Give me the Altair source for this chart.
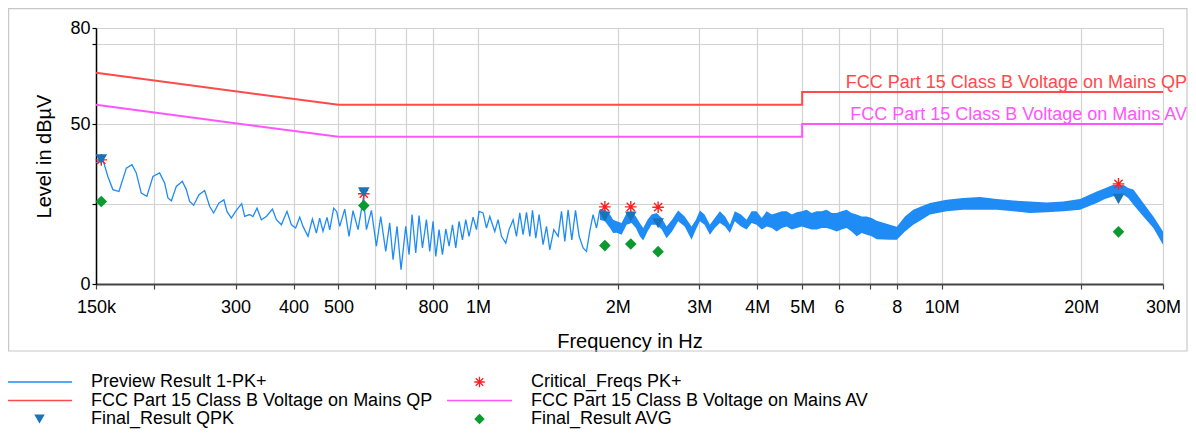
import math
import altair as alt
import pandas as pd

FONT = "Liberation Sans, Arial, Helvetica, sans-serif"

# ---------------- series ----------------
PREVIEW = "Preview Result 1-PK+"
CRIT = "Critical_Freqs PK+"
QP = "FCC Part 15 Class B Voltage on Mains QP"
AV = "FCC Part 15 Class B Voltage on Mains AV"
QPK = "Final_Result QPK"
AVG = "Final_Result AVG"
# legend fills column by column: left column first, then right column
series_order = [PREVIEW, QP, QPK, CRIT, AV, AVG]
series_colors = ["#1f8bf5", "#ff4a4a", "#1873b8", "#ff1f1f", "#ff55ff", "#0b9a2f"]

# ---------------- data ----------------
# preview trace, thin part (kHz, dBµV)
trace_khz = [150.0, 154.8, 159.1, 163.1, 168.1, 174.4, 179.3, 183.2, 187.8, 193.1,
             199.0, 205.7, 210.9, 214.4, 218.1, 223.5, 230.3, 234.9, 238.8, 243.6,
             250.1, 257.3, 263.7, 269.0, 276.2, 283.1, 287.4, 293.7, 301.1, 309.2,
             313.8, 321.7, 327.0, 333.7, 341.0, 349.5, 360.2, 367.4, 376.6, 387.2,
             395.8, 404.3, 412.5, 419.3, 429.8, 439.3, 448.1, 455.5, 463.0, 472.4,
             478.7, 488.3, 495.7, 503.1, 515.8, 526.9, 537.5, 551.1, 566.0, 574.5,
             589.0, 603.6, 616.7, 632.3, 644.9, 655.7, 668.8, 682.2, 698.4, 709.9,
             720.6, 733.9, 746.1, 758.7, 773.9, 786.7, 799.8, 810.6, 824.0, 837.9,
             852.0, 866.0, 880.7, 895.2, 910.1, 925.5, 940.8, 956.3, 975.7, 992.2,
             1005.1, 1025.2, 1042.8, 1060.0, 1086.7, 1104.6, 1123.3, 1147.6, 1166.5, 1190.1,
             1210.3, 1230.3, 1250.5, 1272.0, 1293.0, 1310.4, 1332.0, 1354.2, 1381.3, 1404.8,
             1427.9, 1456.8, 1488.3, 1513.5, 1538.5, 1563.8, 1592.9, 1622.5, 1651.9, 1685.0,
             1713.6, 1741.5, 1770.4, 1800.8, 1830.9]
trace_db = [37.8, 39.4, 33.6, 29.5, 28.9, 36.2, 37.3, 34.7, 28.4, 27.4,
            33.6, 34.7, 31.6, 26.9, 26.0, 30.5, 32.1, 29.5, 25.8, 24.6,
            27.9, 29.2, 24.3, 22.2, 25.3, 26.3, 22.7, 20.6, 23.0, 25.1,
            21.1, 21.7, 21.1, 23.7, 20.1, 21.1, 23.4, 20.1, 18.5, 22.7,
            18.5, 17.5, 20.9, 18.0, 14.9, 20.3, 15.9, 20.6, 16.5, 20.8,
            16.9, 23.7, 22.6, 18.0, 23.4, 14.9, 22.9, 17.0, 27.0, 17.0,
            23.0, 11.8, 21.1, 10.2, 19.1, 7.6, 18.0, 4.5, 18.0, 9.2,
            21.7, 9.7, 21.4, 11.3, 20.1, 10.2, 19.6, 8.6, 17.0, 9.2,
            17.2, 11.8, 18.5, 11.3, 19.6, 13.8, 20.1, 14.9, 20.9, 17.0,
            22.7, 22.2, 17.5, 21.1, 16.4, 20.1, 14.9, 12.8, 17.0, 20.1,
            14.9, 22.2, 15.4, 22.4, 14.9, 23.0, 14.3, 21.7, 12.3, 18.0,
            10.7, 17.0, 14.9, 22.7, 13.3, 23.2, 13.8, 23.0, 14.9, 11.3,
            10.2, 16.5, 21.7, 17.5, 23.2]

# preview trace, dense part drawn as its envelope (MHz, low, high)
band_mhz = [1.832, 1.877, 1.925, 1.956, 1.991, 2.040, 2.091, 2.143, 2.190, 2.233,
            2.271, 2.320, 2.367, 2.427, 2.490, 2.550, 2.620, 2.701, 2.790, 2.887,
            2.950, 3.009, 3.080, 3.162, 3.240, 3.323, 3.410, 3.492, 3.579, 3.690,
            3.794, 3.890, 3.987, 4.090, 4.191, 4.300, 4.405, 4.520, 4.629, 4.750,
            4.865, 4.990, 5.112, 5.240, 5.373, 5.510, 5.646, 5.790, 5.934, 6.080,
            6.237, 6.390, 6.555, 6.720, 6.888, 7.060, 7.240, 7.730, 8.000, 8.330,
            8.680, 9.050, 9.430, 10.25, 11.13, 12.09, 13.14, 14.27, 15.50, 16.84,
            18.29, 19.87, 21.59, 22.49, 23.45, 24.64, 25.23, 25.90, 27.21, 28.60,
            30.00]
band_hi = [23.4, 23.2, 21.7, 20.1, 19.6, 19.1, 22.2, 22.7, 21.1, 19.1,
           17.5, 20.1, 21.7, 22.2, 20.6, 18.0, 20.1, 23.0, 21.1, 18.0,
           20.1, 23.0, 21.7, 18.5, 20.6, 22.7, 21.1, 18.5, 22.7, 21.7,
           20.1, 22.7, 22.7, 20.6, 22.7, 21.7, 22.2, 22.7, 22.7, 21.7,
           22.4, 22.7, 23.2, 22.2, 22.7, 22.7, 23.2, 22.2, 22.2, 22.7,
           23.2, 22.2, 21.7, 21.1, 21.1, 20.6, 19.8, 18.5, 17.9, 21.1,
           23.2, 24.3, 25.3, 26.3, 26.9, 27.2, 26.6, 26.1, 25.8, 25.5,
           25.8, 26.6, 28.9, 29.9, 31.0, 31.0, 30.0, 29.5, 25.3, 21.1,
           16.4]
band_lo = [20.1, 19.6, 17.5, 15.9, 16.0, 15.4, 18.5, 19.1, 17.5, 14.9,
           13.6, 16.4, 18.5, 18.5, 17.0, 14.3, 16.4, 19.6, 18.0, 13.8,
           17.0, 19.6, 18.5, 15.4, 17.5, 19.1, 18.0, 15.9, 19.6, 18.0,
           17.0, 19.1, 18.5, 17.0, 18.0, 17.5, 16.4, 17.5, 18.0, 17.0,
           17.5, 18.0, 17.5, 17.0, 17.0, 17.5, 17.5, 17.0, 16.4, 17.0,
           17.5, 16.4, 14.9, 15.9, 15.4, 14.9, 14.0, 13.8, 13.8, 16.4,
           18.5, 20.1, 21.7, 22.7, 23.2, 23.2, 23.2, 22.7, 22.2, 22.4,
           22.7, 23.2, 25.3, 26.6, 27.4, 27.9, 26.9, 24.8, 21.1, 17.5,
           12.3]

# limit lines (Hz, dBµV)
limit_hz = [150e3, 500e3, 5e6, 5e6, 30e6]
qp_limit = [66, 56, 56, 60, 60]
av_limit = [56, 46, 46, 50, 50]

# final / critical results (MHz, dBµV)
marker_mhz = [0.154, 0.567, 1.877, 2.135, 2.445, 24.05]
crit_db = [38.8, 28.2, 24.1, 24.1, 24.0, 31.3]
qpk_db = [39.0, 28.7, 21.1, 21.1, 19.0, 26.6]
avg_db = [25.8, 24.5, 12.0, 12.5, 10.1, 16.3]

# axes
xtick_hz = [150e3, 200e3, 300e3, 400e3, 500e3, 600e3, 700e3, 800e3, 1e6,
            2e6, 3e6, 4e6, 5e6, 6e6, 7e6, 8e6, 10e6, 20e6, 30e6]
xtick_labels = ["150k", "", "300", "400", "500", "", "", "800", "1M",
                "2M", "3M", "4M", "5M", "6", "", "8", "10M", "20M", "30M"]
ytick_vals = [0, 25, 50, 75, 80]
ytick_shown = [0, 50, 80]

# ---------------- tables ----------------
trace_df = pd.DataFrame({"freq": [k * 1e3 for k in trace_khz], "level": trace_db, "series": PREVIEW})
band_df = pd.DataFrame({"freq": [m * 1e6 for m in band_mhz], "lo": band_lo, "hi": band_hi, "series": PREVIEW})
limits_df = pd.concat([
    pd.DataFrame({"freq": limit_hz, "level": qp_limit, "series": QP, "idx": range(5)}),
    pd.DataFrame({"freq": limit_hz, "level": av_limit, "series": AV, "idx": range(5)}),
])
text_df = pd.DataFrame({"freq": [limit_hz[-1]] * 2, "level": [qp_limit[-1], av_limit[-1]],
                        "series": [QP, AV], "label": [QP, AV]})
points_df = pd.concat([
    pd.DataFrame({"freq": [m * 1e6 for m in marker_mhz], "level": crit_db, "series": CRIT}),
    pd.DataFrame({"freq": [m * 1e6 for m in marker_mhz], "level": qpk_db, "series": QPK}),
    pd.DataFrame({"freq": [m * 1e6 for m in marker_mhz], "level": avg_db, "series": AVG}),
])

# ---------------- symbols ----------------
def asterisk_path(w=0.12):
    parts = []
    for ang in (0, 45, 90, 135):
        a = math.radians(ang)
        c, s = math.cos(a), math.sin(a)
        pts = [(-1, -w), (1, -w), (1, w), (-1, w)]
        rp = [(x * c - y * s, x * s + y * c) for x, y in pts]
        parts.append("M" + "L".join(f"{x:.3f},{y:.3f}" for x, y in rp) + "Z")
    return "".join(parts)

LINE_SYMBOL = "M-6.2,-0.14L6.2,-0.14L6.2,0.14L-6.2,0.14Z"
shape_of = {PREVIEW: LINE_SYMBOL, QP: LINE_SYMBOL, AV: LINE_SYMBOL,
            CRIT: asterisk_path(), QPK: "triangle-down", AVG: "diamond"}
series_shapes = [shape_of[s] for s in series_order]

# legend scales (all six series) and a separate scale for the drawn lines / fills
color_scale = alt.Scale(domain=series_order, range=series_colors)
shape_scale = alt.Scale(domain=series_order, range=series_shapes)
line_series = [PREVIEW, QP, AV]
line_scale = alt.Scale(domain=line_series,
                       range=[series_colors[series_order.index(s)] for s in line_series])

x_label_expr = "".join(f"datum.value == {v} ? '{l}' : " for v, l in zip(xtick_hz, xtick_labels)) + "''"
y_label_expr = " || ".join(f"datum.value == {v}" for v in ytick_shown) + " ? datum.label : ''"

x_axis = alt.Axis(values=xtick_hz, labelExpr=x_label_expr, title="Frequency in Hz",
                  grid=True, gridColor="#d2d2d2", gridWidth=1.2,
                  domainColor="#444444", domainWidth=2, tickColor="#444444", tickSize=5, tickWidth=1.2,
                  labelFontSize=18, labelFont=FONT, labelColor="#000000", labelPadding=9,
                  labelFlush=False, labelOverlap=False,
                  titleFontSize=20, titleFont=FONT, titleFontWeight="normal", titleColor="#000000",
                  titlePadding=15)
y_axis = alt.Axis(values=ytick_vals, labelExpr=y_label_expr, title="Level in dBµV",
                  grid=True, gridColor="#d2d2d2", gridWidth=1.2,
                  domainColor="#000000", domainWidth=1.5, tickColor="#000000", tickSize=4, tickWidth=1.2,
                  labelFontSize=18, labelFont=FONT, labelColor="#000000", labelPadding=2,
                  labelFlush=False, labelOverlap=False,
                  titleFontSize=20, titleFont=FONT, titleFontWeight="normal", titleColor="#000000",
                  titlePadding=15)

x_scale = alt.Scale(type="log", domain=[150e3, 30e6], nice=False)
y_scale = alt.Scale(domain=[0, 80], nice=False)

X = alt.X("freq:Q", scale=x_scale, axis=x_axis)
Y = alt.Y("level:Q", scale=y_scale, axis=y_axis)

W, H = 1067, 256
PAD_L, PAD_T, PAD_R, PAD_B = 88, 20, 25, 146

legend = alt.Legend(orient="none", legendX=-65.5, legendY=H + 89, columns=2, columnPadding=14,
                    rowPadding=0.5, labelFontSize=18, labelFont=FONT, labelColor="#000000",
                    labelLimit=600, labelOffset=42.5, symbolSize=110, symbolStrokeWidth=0,
                    title=None, padding=0)

frame = alt.Chart(pd.DataFrame({"k": [0]})).mark_rect(
    fill=None, stroke="#c8c8c8", strokeWidth=1.2
).encode(x=alt.value(-PAD_L + 0.6), x2=alt.value(W + PAD_R - 1), y=alt.value(-PAD_T + 0.6),
         y2=alt.value(H + 67))

limits = alt.Chart(limits_df).mark_line(strokeWidth=2).encode(
    x=X, y=Y, order=alt.Order("idx:Q"),
    stroke=alt.Stroke("series:N", scale=line_scale, legend=None))

band = alt.Chart(band_df).mark_area(opacity=1).encode(
    x=X, y=alt.Y("lo:Q", scale=y_scale, axis=y_axis), y2=alt.Y2("hi:Q"),
    fill=alt.Fill("series:N", scale=line_scale, legend=None))

trace = alt.Chart(trace_df).mark_line(strokeWidth=1.3).encode(
    x=X, y=Y, stroke=alt.Stroke("series:N", scale=line_scale, legend=None))

texts = alt.Chart(text_df).mark_text(
    align="right", baseline="alphabetic", dx=24, dy=-4, fontSize=18, font=FONT
).encode(x=X, y=Y, text="label:N",
         fill=alt.Fill("series:N", scale=line_scale, legend=None))

points = alt.Chart(points_df).mark_point(filled=True, opacity=1, size=135, strokeWidth=0).encode(
    x=X, y=Y,
    color=alt.Color("series:N", scale=color_scale, legend=legend),
    shape=alt.Shape("series:N", scale=shape_scale, legend=legend))

chart = alt.layer(frame, limits, band, trace, texts, points).properties(
    width=W, height=H,
    autosize=alt.AutoSizeParams(type="none"),
    padding={"left": PAD_L, "top": PAD_T, "right": PAD_R, "bottom": PAD_B},
).configure_view(stroke=None)

chart.save("out.html", embed_options={"renderer": "svg", "actions": False})
